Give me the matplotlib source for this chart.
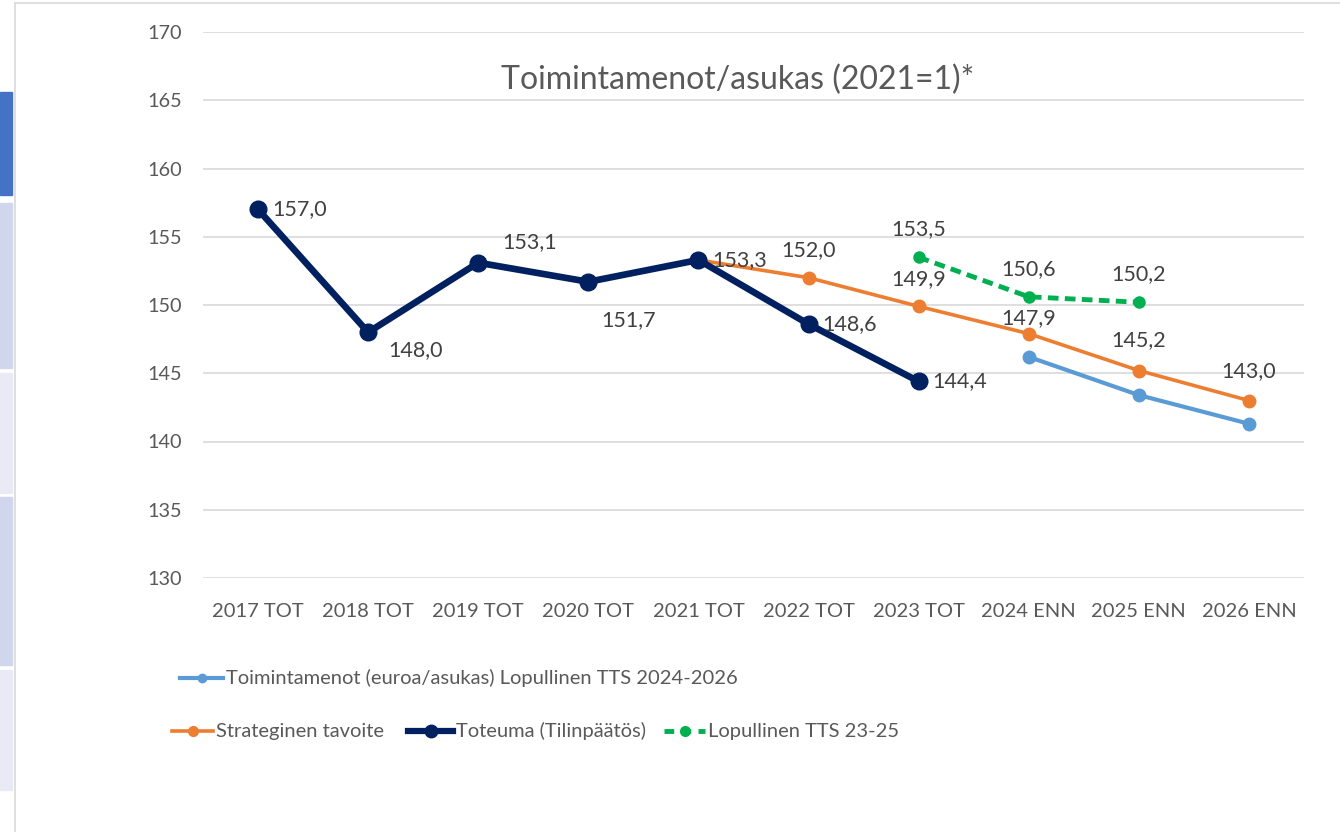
import matplotlib
matplotlib.use("Agg")
import matplotlib.pyplot as plt
from matplotlib.lines import Line2D
from matplotlib.patches import Rectangle

plt.rcParams['font.family'] = ['Lato', 'DejaVu Sans']

# data
categories = ["2017 TOT", "2018 TOT", "2019 TOT", "2020 TOT", "2021 TOT",
              "2022 TOT", "2023 TOT", "2024 ENN", "2025 ENN", "2026 ENN"]
toteuma = [157.0, 148.0, 153.1, 151.7, 153.3, 148.6, 144.4]
strateginen_x = [4, 5, 6, 7, 8, 9]
strateginen = [153.3, 152.0, 149.9, 147.9, 145.2, 143.0]
tts_2426_x = [7, 8, 9]
tts_2426 = [146.2, 143.4, 141.3]
tts_2325_x = [6, 7, 8]
tts_2325 = [153.5, 150.6, 150.2]

NAVY = "#002060"
ORANGE = "#ED7D31"
LBLUE = "#5B9BD5"
GREEN = "#00B050"
TXT = "#404040"
TICK = "#595959"

W, H = 1340, 832
fig = plt.figure(figsize=(W / 100, H / 100), dpi=100)

def fx(x):
    return x / W

def fy(y):
    return 1 - y / H

# left side decoration from the screenshot
for y0, y1, c in [(92, 195, "#4472C4"), (203, 368, "#D0D6EC"), (373, 493, "#E8EBF5"),
                  (497, 665, "#D0D6EC"), (670, 790, "#E8EBF5")]:
    fig.patches.append(Rectangle((0, fy(y1)), fx(12), fy(y0) - fy(y1),
                                 transform=fig.transFigure, color=c, zorder=0))
fig.lines.append(Line2D([fx(15), fx(15)], [fy(3), 0], transform=fig.transFigure,
                        color="#D9D9D9", lw=1.2))
fig.lines.append(Line2D([fx(15), 1], [fy(3), fy(3)], transform=fig.transFigure,
                        color="#D9D9D9", lw=1.2))

ax = fig.add_axes([fx(203), fy(578), fx(1304) - fx(203), fy(32) - fy(578)])
ax.set_xlim(-0.5, 9.5)
ax.set_ylim(130, 170)
ax.set_yticks(range(130, 171, 5))
ax.grid(axis="y", color="#D9D9D9", lw=1.2)
ax.set_axisbelow(True)
for s in ax.spines.values():
    s.set_visible(False)
ax.tick_params(length=0)
ax.tick_params(axis="y", pad=15, labelsize=14.3, labelcolor=TICK)
ax.tick_params(axis="x", pad=18, labelsize=14.5, labelcolor=TICK)
ax.set_xticks(range(len(categories)))
ax.set_xticklabels(categories)

ax.plot(tts_2426_x, tts_2426, color=LBLUE, lw=3, marker="o", ms=9, zorder=3)
ax.plot(strateginen_x, strateginen, color=ORANGE, lw=2.6, marker="o", ms=9, zorder=3)
ax.plot(range(len(toteuma)), toteuma, color=NAVY, lw=4.8, marker="o", ms=12, zorder=4)
ax.plot(tts_2325_x, tts_2325, color=GREEN, lw=3.5, ls=(0, (2.2, 1.3)),
        marker="o", ms=8, zorder=3)

def lab(x, v, dx, dy, ha="left"):
    ax.annotate(f"{v:.1f}".replace(".", ","), (x, v), xytext=(dx, dy),
                textcoords="offset pixels", ha=ha, va="center",
                fontsize=15.5, color=TXT, zorder=5)

# labels for toteuma
offs = [(14, 0), (20, -18), (24, 21), (13, -38), (14, 0), (14, 0), (14, 0)]
for i, (v, (dx, dy)) in enumerate(zip(toteuma, offs)):
    lab(i, v, dx, dy)
for x, v, dy in zip(strateginen_x[1:], strateginen[1:], [28, 27, 16, 30, 29]):
    lab(x, v, 0, dy, "center")
for x, v in zip(tts_2325_x, tts_2325):
    lab(x, v, 0, 28, "center")

fig.text(fx(738), fy(80), "Toimintamenot/asukas (2021=1)*", ha="center", va="center",
         fontsize=23, color=TICK)

# legend drawn by hand
def leg(x0, x1, y, color, lw, ms, text, ls="-"):
    fig.lines.append(Line2D([fx(x0), fx(x1)], [fy(y), fy(y)], transform=fig.transFigure,
                            color=color, lw=lw, ls=ls))
    fig.lines.append(Line2D([fx((x0 + x1) / 2)], [fy(y)], transform=fig.transFigure,
                            color=color, marker="o", ms=ms, lw=0))
    fig.text(fx(x1 + 3), fy(y), text, ha="left", va="center", fontsize=14.5, color=TICK)

leg(180, 223, 678, LBLUE, 3, 6, "Toimintamenot (euroa/asukas) Lopullinen TTS 2024-2026")
leg(172, 213, 731, ORANGE, 2.6, 7, "Strateginen tavoite")
leg(408, 453, 731, NAVY, 4.5, 9, "Toteuma (Tilinpäätös)")
leg(664, 705, 731, GREEN, 3.5, 7, "Lopullinen TTS 23-25", ls=(0, (2, 1.5)))

fig.savefig("out.png", dpi=100)
